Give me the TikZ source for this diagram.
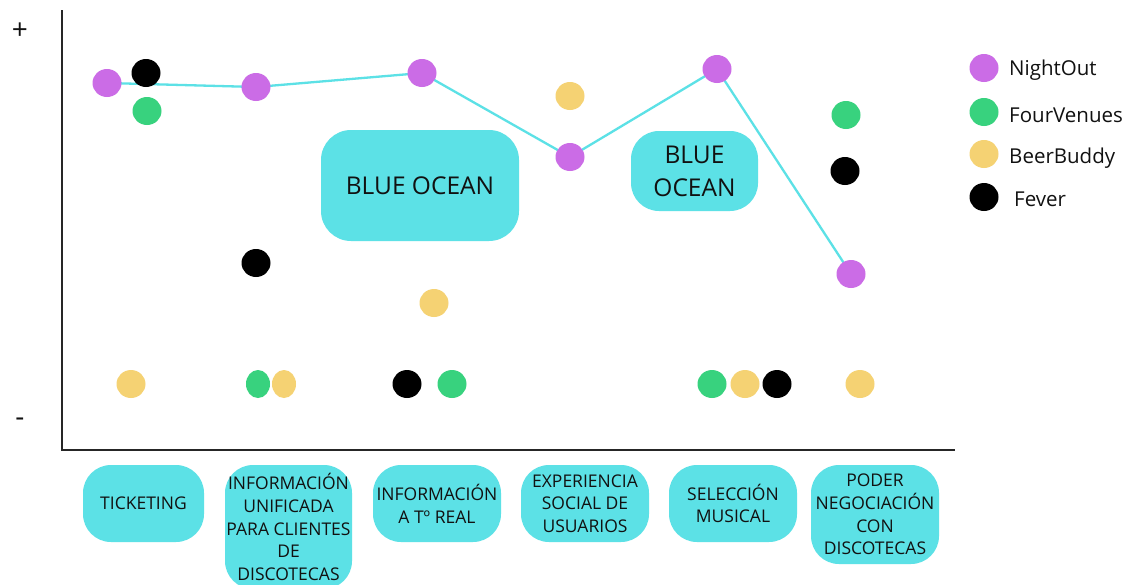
\documentclass[tikz,border=0pt]{standalone}
\usepackage{fontspec}
\setmainfont{Open Sans}
\usetikzlibrary{backgrounds,shapes.geometric}
\definecolor{cyanb}{HTML}{5CE1E6}
\definecolor{purp}{HTML}{CB6CE6}
\definecolor{grn}{HTML}{38D27E}
\definecolor{yel}{HTML}{F5D273}
\definecolor{txt}{HTML}{111111}
\begin{document}
\begin{tikzpicture}[x=1pt,y=-1pt,
  dot/.style={ellipse,minimum width=29pt,minimum height=28pt,inner sep=0pt},
  ndot/.style={ellipse,minimum width=24pt,minimum height=28pt,inner sep=0pt},
  nightout/.style={fill=purp},
  fourv/.style={fill=grn},
  beerb/.style={fill=yel},
  fever/.style={fill=black},
  axis/.style={line width=2.5pt,black!85},
  trend/.style={line width=2.3pt,cyanb},
  catbox/.style={fill=cyanb,rounded corners=28pt,align=center,inner sep=0pt,
    text=txt,font=\fontsize{17.5}{22.7}\selectfont},
  ocean/.style={fill=cyanb,rounded corners=30pt,align=center,inner sep=0pt,
    text=txt,font=\fontsize{24.5}{33}\selectfont},
  legtext/.style={anchor=base west,inner sep=0pt,text=txt,font=\fontsize{20.5}{24}\selectfont},
  sign/.style={inner sep=0pt,text=txt,font=\fontsize{28}{30}\selectfont}
]
\useasboundingbox (0,0) rectangle (1131,584);
\begin{scope}[on background layer]
\fill[white] (0,0) rectangle (1131,584);
\end{scope}

% axes
\coordinate (top) at (62,10);
\coordinate (origin) at (62,450);
\coordinate (right) at (955,450);
\draw[axis] (top) -- (origin) -- (right);
\node[sign] (plus) at (20,31) {+};
\node[sign] (minus) at (20,422) {-};

% blue ocean boxes
\node[ocean,minimum width=198pt,minimum height=111pt] (bo1) at (420,185.5) {BLUE OCEAN};
\node[ocean,minimum width=127pt,minimum height=80pt,rounded corners=28pt] (bo2) at (694.5,171) {BLUE\\OCEAN};

% NightOut
\node[dot,nightout] (p1) at (107,83) {};
\node[dot,nightout] (p2) at (256,87) {};
\node[dot,nightout] (p3) at (422,73) {};
\node[dot,nightout] (p4) at (570,157) {};
\node[dot,nightout] (p5) at (717,69) {};
\node[dot,nightout] (p6) at (851,274) {};
\begin{scope}[on background layer]
\draw[trend] (p1.center) -- (p2.center) -- (p3.center) -- (p4.center) -- (p5.center) -- (p6.center);
\end{scope}

% Fever
\node[dot,fever] (f1) at (146,73) {};
\node[dot,fever] (f2) at (256,263) {};
\node[dot,fever] (f3) at (407,384) {};
\node[dot,fever] (f5) at (777,384) {};
\node[dot,fever] (f6) at (845,171) {};

% FourVenues
\node[dot,fourv] (g1) at (147,111) {};
\node[ndot,fourv] (g2) at (258,384) {};
\node[dot,fourv] (g3) at (452,384) {};
\node[dot,fourv] (g5) at (712,384) {};
\node[dot,fourv] (g6) at (846,115) {};

% BeerBuddy
\node[dot,beerb] (y1) at (131,384) {};
\node[ndot,beerb] (y2) at (284,384) {};
\node[dot,beerb] (y3) at (434,303) {};
\node[dot,beerb] (y4) at (570,96) {};
\node[dot,beerb] (y5) at (745,384) {};
\node[dot,beerb] (y6) at (860,384) {};

% legend
\node[dot,nightout] (l1) at (984,68) {};
\node[dot,fourv] (l2) at (984,112) {};
\node[dot,beerb] (l3) at (984,154) {};
\node[dot,fever] (l4) at (984,197) {};
\node[legtext] (lt1) at (1009,75) {NightOut};
\node[legtext] (lt2) at (1009,122) {FourVenues};
\node[legtext] (lt3) at (1009,163) {BeerBuddy};
\node[legtext] (lt4) at (1014,206) {Fever};

% categories
\node[catbox,minimum width=121pt,minimum height=77pt] (c1) at (143.5,503.5) {TICKETING};
\node[catbox,minimum width=127pt,minimum height=124pt] (c2) at (288.5,527) {INFORMACIÓN\\UNIFICADA\\PARA CLIENTES\\DE\\DISCOTECAS};
\node[catbox,minimum width=128pt,minimum height=77pt] (c3) at (437,503.5) {INFORMACIÓN\\A Tº REAL};
\node[catbox,minimum width=128pt,minimum height=77pt] (c4) at (585,503.5) {EXPERIENCIA\\SOCIAL DE\\USUARIOS};
\node[catbox,minimum width=128pt,minimum height=77pt] (c5) at (733,503.5) {SELECCIÓN\\MUSICAL};
\node[catbox,minimum width=128pt,minimum height=99pt] (c6) at (875,514.5) {PODER\\NEGOCIACIÓN\\CON\\DISCOTECAS};
\end{tikzpicture}
\end{document}
